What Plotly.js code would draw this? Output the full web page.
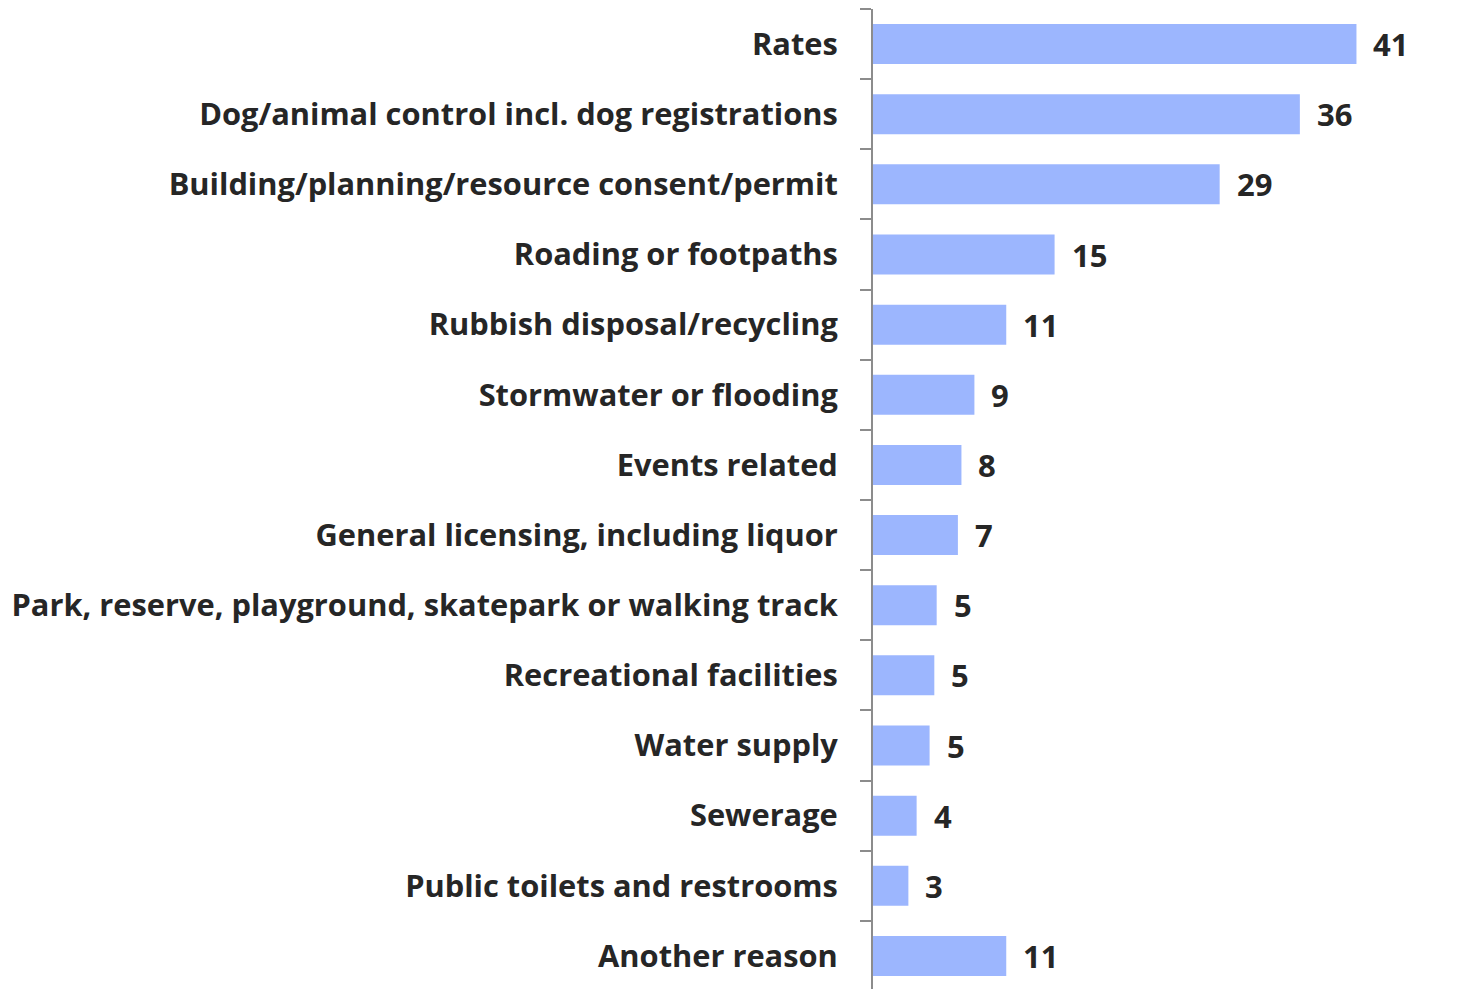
<!DOCTYPE html>
<html>
<head>
<meta charset="utf-8">
<script src="https://cdn.plot.ly/plotly-3.0.1.min.js"></script>
<style>html,body{margin:0;padding:0;overflow:hidden;background:#fff}</style>
</head>
<body>
<div id="chart" style="width:1458px;height:1000px"></div>
<script>
const categories = [
  "Rates",
  "Dog/animal control incl. dog registrations",
  "Building/planning/resource consent/permit",
  "Roading or footpaths",
  "Rubbish disposal/recycling",
  "Stormwater or flooding",
  "Events related",
  "General licensing, including liquor",
  "Park, reserve, playground, skatepark or walking track",
  "Recreational facilities",
  "Water supply",
  "Sewerage",
  "Public toilets and restrooms",
  "Another reason"
];
const values = [41.0, 36.2, 29.4, 15.4, 11.3, 8.6, 7.5, 7.2, 5.4, 5.2, 4.8, 3.7, 3.0, 11.3];
const labels = ["41", "36", "29", "15", "11", "9", "8", "7", "5", "5", "5", "4", "3", "11"];

const FONT = "'Open Sans', sans-serif";
const TEXT = "#262626";

const trace = {
  type: "bar",
  orientation: "h",
  y: categories,
  x: values,
  marker: {color: "#9cb6fe"},
  hoverinfo: "none"
};

const annotations = categories.map((c, i) => ({
  x: values[i], y: c, xref: "x", yref: "y",
  text: "<b>" + labels[i] + "</b>",
  showarrow: false, xanchor: "left", yanchor: "middle", xshift: 15, yshift: 0,
  font: {family: FONT, size: 31, color: TEXT}
}));

const layout = {
  width: 1458, height: 1000,
  margin: {l: 873, r: 19, t: 9, b: 9},
  paper_bgcolor: "#fff", plot_bgcolor: "#fff",
  bargap: 0.43,
  showlegend: false,
  xaxis: {range: [0, 48], visible: false, fixedrange: true},
  yaxis: {
    type: "category",
    autorange: "reversed",
    showline: true, linecolor: "#8c8c8c", linewidth: 2,
    ticks: "outside", tickson: "boundaries", ticklen: 11, tickwidth: 2, tickcolor: "#8c8c8c",
    ticklabelstandoff: 27,
    showgrid: false, zeroline: false,
    tickfont: {family: FONT, size: 30.8, color: TEXT, weight: "bold"}
  },
  annotations: annotations
};

Plotly.newPlot("chart", [trace], layout, {displayModeBar: false, staticPlot: true});
</script>
</body>
</html>
